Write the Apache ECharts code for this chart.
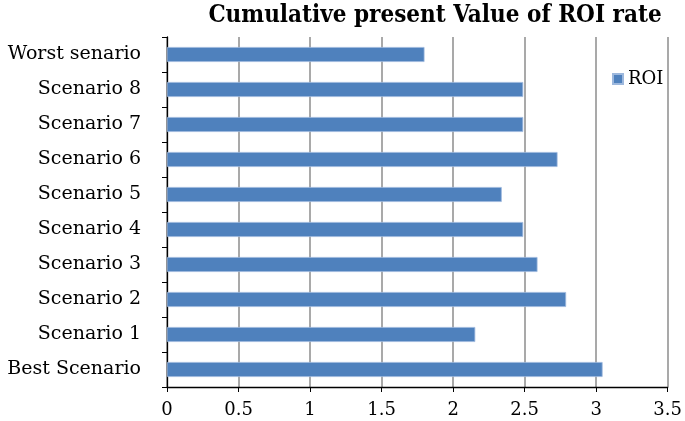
<!DOCTYPE html>
<html>
<head>
<meta charset="utf-8">
<script src="https://cdn.jsdelivr.net/npm/echarts@6/dist/echarts.min.js"></script>
<style>html,body{margin:0;padding:0;background:#fff}#c{width:685px;height:421px}</style>
</head>
<body>
<div id="c"></div>
<script>
var categories = ['Best Scenario','Scenario 1','Scenario 2','Scenario 3','Scenario 4','Scenario 5','Scenario 6','Scenario 7','Scenario 8','Worst senario'];
var roiValues = [3.045, 2.155, 2.79, 2.59, 2.49, 2.34, 2.73, 2.49, 2.49, 1.80];
var xTicks = [0, 0.5, 1, 1.5, 2, 2.5, 3, 3.5];

var chart = echarts.init(document.getElementById('c'));
chart.setOption({
  animation: false,
  title: {
    text: 'Cumulative present Value of ROI rate',
    left: 430, top: -1, textAlign: 'center',
    textStyle: {fontFamily: 'DejaVu Serif Condensed', fontWeight: 'bold', fontSize: 24, color: '#000'}
  },
  legend: {
    data: ['ROI'], orient: 'vertical', left: 607, top: 65,
    itemWidth: 10, itemHeight: 10, itemGap: 5,
    icon: 'rect',
    textStyle: {fontFamily: 'DejaVu Serif', fontSize: 18, color: '#000'}
  },
  grid: {left: 167, right: 16, top: 37, bottom: 34},
  xAxis: {
    type: 'value', min: 0, max: 3.5, interval: 0.5,
    axisLine: {show: true, lineStyle: {color: '#000', width: 1.3}},
    axisTick: {show: true, length: 5, lineStyle: {color: '#000'}},
    axisLabel: {fontFamily: 'DejaVu Serif', fontSize: 18, color: '#000', margin: 14,
      formatter: function(v){ return xTicks.indexOf(v) >= 0 ? String(v) : ''; }},
    splitLine: {show: true, lineStyle: {color: '#8c8c8c', width: 1.5}}
  },
  yAxis: {
    type: 'category', data: categories,
    axisLine: {show: true, lineStyle: {color: '#000', width: 1.3}},
    axisTick: {show: true, length: 5, lineStyle: {color: '#000'}},
    axisLabel: {fontFamily: 'DejaVu Serif', fontSize: 19, color: '#000', margin: 26}
  },
  series: [{
    name: 'ROI', type: 'bar', data: roiValues,
    barWidth: 15,
    itemStyle: {color: '#4F81BD', borderColor: '#9db8dd', borderWidth: 0.8}
  }]
});
</script>
</body>
</html>
